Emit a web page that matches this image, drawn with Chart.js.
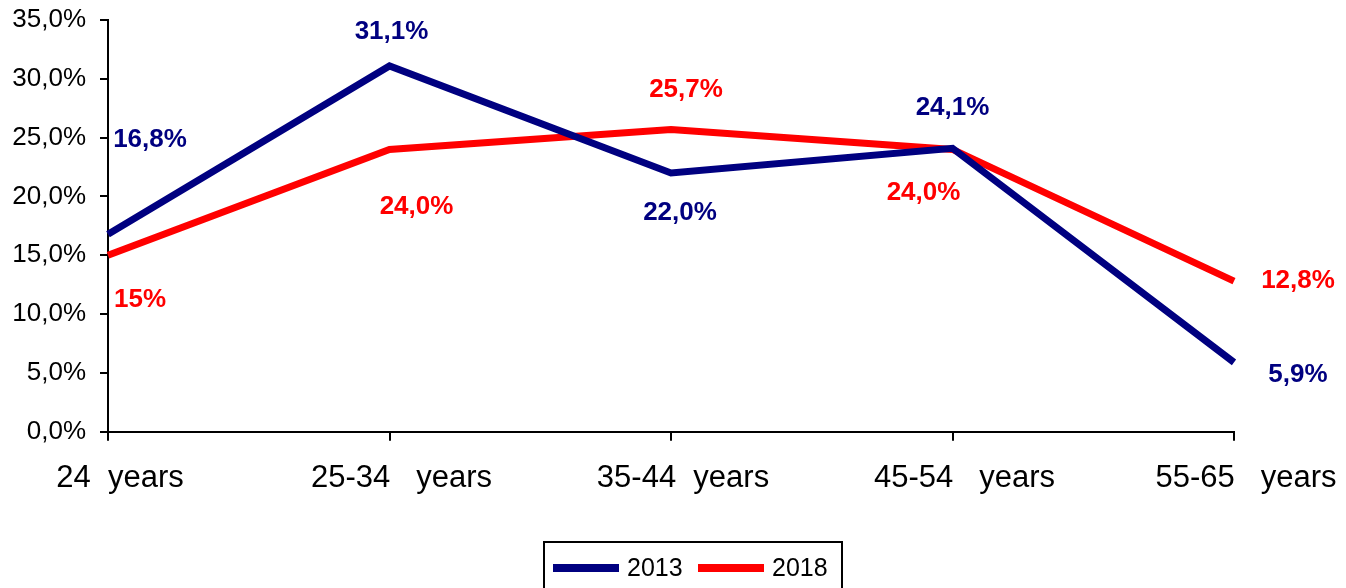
<!DOCTYPE html>
<html>
<head>
<meta charset="utf-8">
<script src="https://cdn.jsdelivr.net/npm/chart.js@4"></script>
<style>
  html, body { margin: 0; padding: 0; background: #fff; }
  #wrap { width: 1346px; height: 588px; }
</style>
</head>
<body>
<div id="wrap"><canvas id="ageChart" width="1346" height="588"></canvas></div>
<script>
// data
const ageGroups = ['24  years', '25-34   years', '35-44  years', '45-54   years', '55-65   years'];
const share2013 = [16.8, 31.1, 22.0, 24.1, 5.9];
const share2018 = [15.0, 24.0, 25.7, 24.0, 12.8];
const labels2013 = ['16,8%', '31,1%', '22,0%', '24,1%', '5,9%'];
const labels2018 = ['15%', '24,0%', '25,7%', '24,0%', '12,8%'];

const NAVY = '#000080';
const RED = '#ff0000';
const FONT = '"Liberation Sans", Arial, sans-serif';

// where each value label sits relative to its point
const labelShift = {
    0: [[42, -94], [2, -34], [9, 40], [0, -40], [64, 12]],
    1: [[32, 45], [27, 57], [15, -40], [-29, 43], [64, 0]]
};

const valueLabels = {
    id: 'valueLabels',
    afterDatasetsDraw(chart) {
        const ctx = chart.ctx;
        ctx.save();
        ctx.font = 'bold 26px ' + FONT;
        ctx.textAlign = 'center';
        ctx.textBaseline = 'middle';
        chart.data.datasets.forEach((ds, di) => {
            const meta = chart.getDatasetMeta(di);
            meta.data.forEach((pt, i) => {
                const s = labelShift[di][i];
                ctx.fillStyle = ds.borderColor;
                ctx.fillText(ds.valueText[i], pt.x + s[0], pt.y + s[1]);
            });
        });
        ctx.restore();
    }
};

// boxed legend like the original (built-in one hidden)
const boxedLegend = {
    id: 'boxedLegend',
    afterDraw(chart) {
        const ctx = chart.ctx;
        ctx.save();
        ctx.strokeStyle = '#000';
        ctx.lineWidth = 2;
        ctx.strokeRect(544, 542, 298, 60);
        ctx.font = '25px ' + FONT;
        ctx.textBaseline = 'middle';
        let x = 553;
        const y = 568;
        chart.data.datasets.forEach(ds => {
            ctx.fillStyle = ds.borderColor;
            ctx.fillRect(x, y - 4, 66, 8);
            ctx.fillStyle = '#000';
            ctx.fillText(ds.label, x + 74, y + 1);
            x += 145;
        });
        ctx.restore();
    }
};

new Chart(document.getElementById('ageChart'), {
    type: 'line',
    data: {
        labels: ageGroups,
        datasets: [
            {
                label: '2013',
                data: share2013,
                valueText: labels2013,
                borderColor: NAVY,
                backgroundColor: NAVY,
                borderWidth: 7,
                pointRadius: 0,
                tension: 0
            },
            {
                label: '2018',
                data: share2018,
                valueText: labels2018,
                borderColor: RED,
                backgroundColor: RED,
                borderWidth: 7,
                pointRadius: 0,
                tension: 0
            }
        ]
    },
    options: {
        responsive: false,
        animation: false,
        layout: { padding: { top: 20, right: 112, left: 0, bottom: 72 } },
        plugins: {
            legend: { display: false },
            tooltip: { enabled: false }
        },
        scales: {
            x: {
                offset: false,
                grid: { drawOnChartArea: false, drawTicks: true, tickLength: 9, color: '#000', lineWidth: 2 },
                border: { color: '#000', width: 2 },
                ticks: {
                    color: '#000',
                    maxRotation: 0,
                    autoSkip: false,
                    labelOffset: 12,
                    padding: 19,
                    font: { family: FONT, size: 31 }
                }
            },
            y: {
                min: 0,
                max: 35,
                grid: { drawOnChartArea: false, drawTicks: true, tickLength: 8, color: '#000', lineWidth: 2 },
                border: { color: '#000', width: 2 },
                afterFit(scale) {
                    scale.width = 108;
                    scale.paddingTop = 0;
                },
                ticks: {
                    stepSize: 5,
                    color: '#000',
                    padding: 14,
                    font: { family: FONT, size: 26 },
                    callback: v => v.toFixed(1).replace('.', ',') + '%'
                }
            }
        }
    },
    plugins: [valueLabels, boxedLegend]
});
</script>
</body>
</html>
